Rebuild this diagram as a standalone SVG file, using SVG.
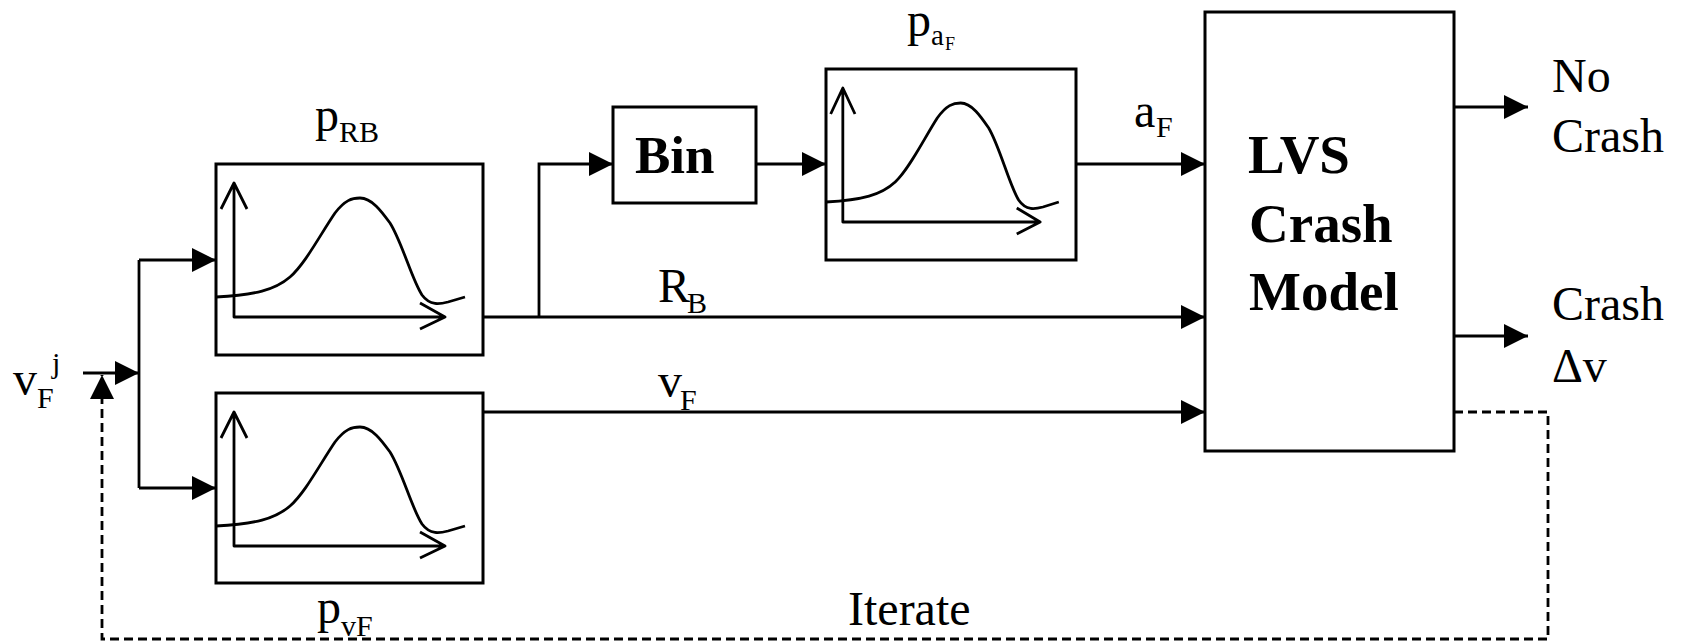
<svg xmlns="http://www.w3.org/2000/svg" width="1685" height="642" viewBox="0 0 1685 642">
<style>
.box{fill:#fff;stroke:#000;stroke-width:3}
.ln{fill:none;stroke:#000;stroke-width:2.8}
.dash{fill:none;stroke:#000;stroke-width:2.8;stroke-dasharray:9 5}
.plot{fill:none;stroke:#000;stroke-width:2.8;stroke-linejoin:round}
.t{font-family:"Liberation Serif","Times New Roman",serif;fill:#000}
.lg{font-size:48px}
.sb{font-size:30px}
.bd{font-size:55px;font-weight:bold}
</style>
<defs>
<marker id="ah" markerUnits="userSpaceOnUse" markerWidth="24" markerHeight="24" refX="24" refY="12" orient="auto">
<path d="M0,0 L24,12 L0,24 Z" fill="#000" stroke="none"/>
</marker>
<g id="plot">
<path class="plot" vector-effect="non-scaling-stroke" d="M0,133 C39,131 59,126 74,113 C89,100 104,71 119,49 C129,36 136,34 144,34 C156,34 166,48 174,59 C186,78 196,116 206,131 C214,142 224,140 232,138 L249,133"/>
<path class="plot" vector-effect="non-scaling-stroke" d="M18,19 L18,153 L229,153 M5,45 L18,19 L31,45 M204,139 L229,153 L204,165"/>
</g>
</defs>

<g id="connectors">
<path class="ln" d="M83,373 L139,373" marker-end="url(#ah)"/>
<path class="ln" d="M139,260 L139,488"/>
<path class="ln" d="M139,260 L216,260" marker-end="url(#ah)"/>
<path class="ln" d="M139,488 L216,488" marker-end="url(#ah)"/>
<path class="ln" d="M483,317 L1205,317" marker-end="url(#ah)"/>
<path class="ln" d="M539,317 L539,164 L613,164" marker-end="url(#ah)"/>
<path class="ln" d="M756,164 L826,164" marker-end="url(#ah)"/>
<path class="ln" d="M1076,164 L1205,164" marker-end="url(#ah)"/>
<path class="ln" d="M483,412 L1205,412" marker-end="url(#ah)"/>
<path class="ln" d="M1454,107 L1528,107" marker-end="url(#ah)"/>
<path class="ln" d="M1454,336 L1528,336" marker-end="url(#ah)"/>
<path class="dash" d="M1454,412 L1548,412 L1548,639 L102,639 L102,375" marker-end="url(#ah)"/>
<text class="t lg" x="658" y="302">R<tspan class="sb" x="687" y="313">B</tspan></text>
<text class="t lg" x="658" y="397">v<tspan class="sb" x="680" y="410">F</tspan></text>
<text class="t lg" x="1134" y="127">a<tspan class="sb" x="1156" y="137">F</tspan></text>
<text class="t lg" x="848" y="625">Iterate</text>
</g>

<g id="input">
<text class="t lg" x="13" y="395">v<tspan class="sb" x="37" y="408">F</tspan><tspan class="sb" x="52" y="373">j</tspan></text>
</g>

<g id="pRB">
<rect class="box" x="216" y="164" width="267" height="191"/>
<use href="#plot" transform="translate(216,164)"/>
<text class="t lg" x="315" y="131">p<tspan class="sb" x="339" y="142">RB</tspan></text>
</g>

<g id="pvF">
<rect class="box" x="216" y="393" width="267" height="190"/>
<use href="#plot" transform="translate(216,393)"/>
<text class="t lg" x="317" y="623">p<tspan class="sb" x="341" y="636">vF</tspan></text>
</g>

<g id="bin">
<rect class="box" x="613" y="107" width="143" height="96"/>
<text class="t bd" x="635" y="173" style="font-size:53px">Bin</text>
</g>

<g id="paF">
<rect class="box" x="826" y="69" width="250" height="191"/>
<use href="#plot" transform="translate(826,69) scale(0.935,1)"/>
<text class="t lg" x="907" y="36">p<tspan style="font-size:29px" x="931" y="45">a</tspan><tspan style="font-size:18px" x="945" y="50">F</tspan></text>
</g>

<g id="lvs">
<rect class="box" x="1205" y="12" width="249" height="439"/>
<text class="t bd" x="1248" y="173">LVS</text>
<text class="t bd" x="1249" y="242">Crash</text>
<text class="t bd" x="1249" y="310">Model</text>
</g>

<g id="outputs">
<text class="t lg" x="1552" y="92">No</text>
<text class="t lg" x="1552" y="152">Crash</text>
<text class="t lg" x="1552" y="320">Crash</text>
<text class="t lg" x="1552" y="382">Δv</text>
</g>
</svg>
